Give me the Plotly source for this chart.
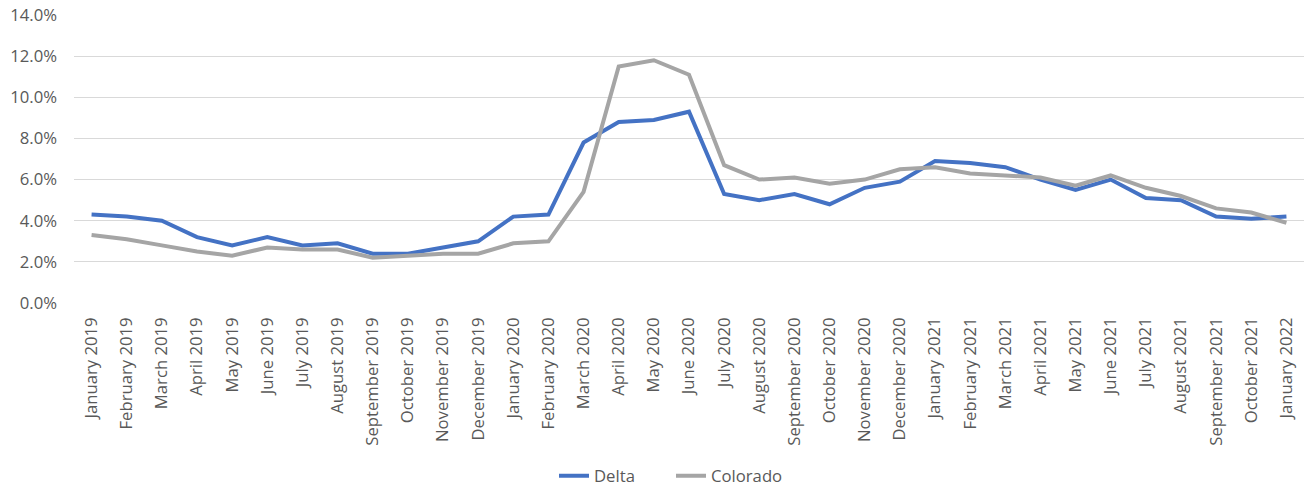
import plotly.graph_objects as go

months = [
    "January 2019", "February 2019", "March 2019", "April 2019", "May 2019",
    "June 2019", "July 2019", "August 2019", "September 2019", "October 2019",
    "November 2019", "December 2019", "January 2020", "February 2020",
    "March 2020", "April 2020", "May 2020", "June 2020", "July 2020",
    "August 2020", "September 2020", "October 2020", "November 2020",
    "December 2020", "January 2021", "February 2021", "March 2021",
    "April 2021", "May 2021", "June 2021", "July 2021", "August 2021",
    "September 2021", "October 2021", "January 2022",
]

delta = [
    4.3, 4.2, 4.0, 3.2, 2.8, 3.2, 2.8, 2.9, 2.4, 2.4, 2.7, 3.0,
    4.2, 4.3, 7.8, 8.8, 8.9, 9.3, 5.3, 5.0, 5.3, 4.8, 5.6, 5.9,
    6.9, 6.8, 6.6, 6.0, 5.5, 6.0, 5.1, 5.0, 4.2, 4.1, 4.2,
]

colorado = [
    3.3, 3.1, 2.8, 2.5, 2.3, 2.7, 2.6, 2.6, 2.2, 2.3, 2.4, 2.4,
    2.9, 3.0, 5.4, 11.5, 11.8, 11.1, 6.7, 6.0, 6.1, 5.8, 6.0, 6.5,
    6.6, 6.3, 6.2, 6.1, 5.7, 6.2, 5.6, 5.2, 4.6, 4.4, 3.9,
]

text_color = "#595959"
font_family = "Open Sans, Liberation Sans, sans-serif"
font_size = 16.7

fig = go.Figure()
fig.add_trace(go.Scatter(
    x=months, y=[v / 100 for v in delta], name="Delta", mode="lines",
    line=dict(color="#4472C4", width=4),
))
fig.add_trace(go.Scatter(
    x=months, y=[v / 100 for v in colorado], name="Colorado", mode="lines",
    line=dict(color="#A5A5A5", width=4),
))

fig.update_layout(
    width=1306, height=489,
    margin=dict(l=74, r=2, t=15, b=185.5, pad=0, autoexpand=False),
    paper_bgcolor="white", plot_bgcolor="white",
    font=dict(family=font_family, size=font_size, color=text_color),
    showlegend=True,
    legend=dict(
        orientation="h", xref="container", x=554 / 1306, xanchor="left",
        yref="container", y=13 / 489, yanchor="middle",
        entrywidth=72, entrywidthmode="pixels",
        font=dict(size=font_size, color=text_color), traceorder="normal",
    ),
    xaxis=dict(
        type="category", tickangle=-90, showgrid=False, zeroline=False,
        showline=False, ticks="", tickfont=dict(size=font_size, color=text_color),
        range=[-0.5, len(months) - 0.5], automargin=False,
    ),
    yaxis=dict(
        range=[0, 0.14], dtick=0.02, tickformat=".1%", showgrid=True,
        gridcolor="#D9D9D9", gridwidth=1.3, zeroline=False, showline=False,
        ticks="", tickfont=dict(size=font_size, color=text_color),
        automargin=False,
    ),
)
fig.update_xaxes(ticklabelstandoff=10)
fig.update_yaxes(ticklabelstandoff=16)

fig.write_html("out.html")
